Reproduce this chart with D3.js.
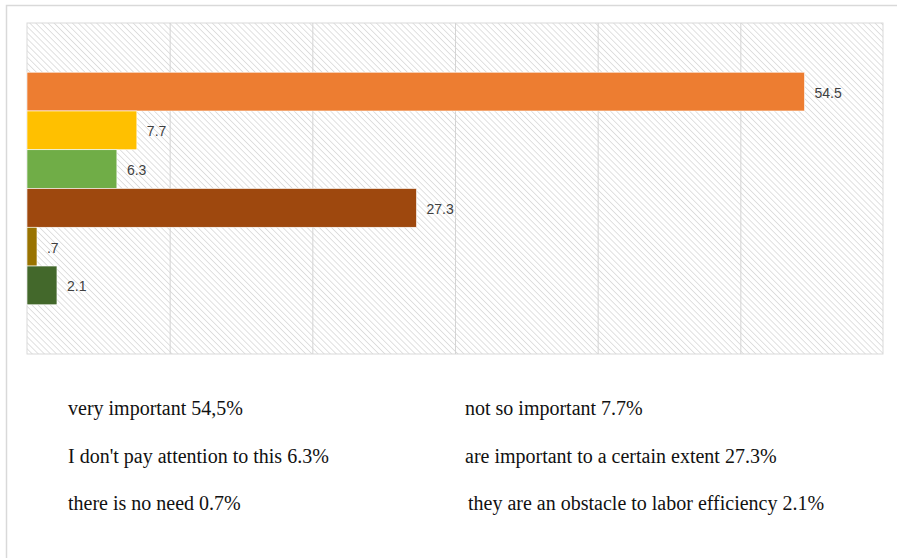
<!DOCTYPE html>
<html lang="en">
<head>
<meta charset="UTF-8">
<title>Importance survey</title>
<script src="https://d3js.org/d3.v7.min.js"></script>
<style>
  body { margin: 0; background: #fff; }
  svg { display: block; }
</style>
</head>
<body>
<svg width="897" height="558"></svg>
<script>
// survey answers, in bar order (top to bottom)
const answers = ["very important", "not so important", "I don't pay attention to this",
  "are important to a certain extent", "there is no need", "they are an obstacle to labor efficiency"];
const values = [54.5, 7.7, 6.3, 27.3, 0.7, 2.1];
const valueLabels = ["54.5", "7.7", "6.3", "27.3", ".7", "2.1"];
const legendTexts = ["very important 54,5%", "not so important 7.7%",
  "I don't pay attention to this 6.3%", "are important to a certain extent 27.3%",
  "there is no need 0.7%", "they are an obstacle to labor efficiency 2.1%"];
const colors = ["#ED7D31", "#FFC000", "#70AD47", "#9E480E", "#997300", "#43682B"];
const xTicks = [0, 10, 20, 30, 40, 50, 60];

const svg = d3.select("svg");
const plot = { left: 27, top: 23, right: 883, bottom: 354 };

// outer frame (top and left edge only)
svg.append("path")
  .attr("d", "M6.5,558 V5.5 H897")
  .attr("fill", "none").attr("stroke", "#d9d9d9").attr("stroke-width", 1.5);

// hatched background
const defs = svg.append("defs");
const pat = defs.append("pattern")
  .attr("id", "hatch").attr("patternUnits", "userSpaceOnUse")
  .attr("width", 4.3).attr("height", 4.3)
  .attr("patternTransform", "rotate(-45)");
pat.append("line")
  .attr("x1", 0).attr("y1", 0).attr("x2", 0).attr("y2", 4.3)
  .attr("stroke", "#dadada").attr("stroke-width", 1.6);

const x = d3.scaleLinear().domain([0, 60]).range([plot.left, plot.right]);
const y = d3.scaleBand().domain(answers)
  .range([plot.top, plot.bottom]).paddingInner(0).paddingOuter(1.27);

svg.append("rect")
  .attr("x", plot.left).attr("y", plot.top)
  .attr("width", plot.right - plot.left).attr("height", plot.bottom - plot.top)
  .attr("fill", "url(#hatch)")
  .attr("stroke", "#d9d9d9").attr("stroke-width", 1);

// vertical gridlines
svg.append("g").selectAll("line")
  .data(xTicks.slice(1, -1))
  .join("line")
  .attr("x1", d => x(d) + 0.5).attr("x2", d => x(d) + 0.5)
  .attr("y1", plot.top).attr("y2", plot.bottom)
  .attr("stroke", "#d4d4d4").attr("stroke-width", 1);

// bars
svg.append("g").selectAll("rect")
  .data(answers)
  .join("rect")
  .attr("x", x(0))
  .attr("y", d => y(d))
  .attr("width", (d, i) => x(values[i]) - x(0))
  .attr("height", y.bandwidth())
  .attr("fill", (d, i) => colors[i])
  .attr("stroke", "#fff").attr("stroke-width", 0.6);

// value labels
svg.append("g").selectAll("text")
  .data(answers)
  .join("text")
  .attr("x", (d, i) => x(values[i]) + 10)
  .attr("y", d => y(d) + y.bandwidth() / 2 + 1)
  .attr("dy", "0.35em")
  .attr("font-family", "Liberation Sans, Arial, sans-serif")
  .attr("font-size", 14)
  .attr("fill", "#404040")
  .text((d, i) => valueLabels[i]);

// legend text below the chart
const legendX = [68, 465];
const legendY = [415, 463, 510];
svg.append("g").selectAll("text")
  .data(legendTexts)
  .join("text")
  .attr("x", (d, i) => legendX[i % 2] + (i === 5 ? 3 : 0))
  .attr("y", (d, i) => legendY[Math.floor(i / 2)])
  .attr("font-family", "Liberation Serif, Times New Roman, serif")
  .attr("font-size", 20)
  .attr("fill", "#111")
  .text(d => d);
</script>
</body>
</html>
